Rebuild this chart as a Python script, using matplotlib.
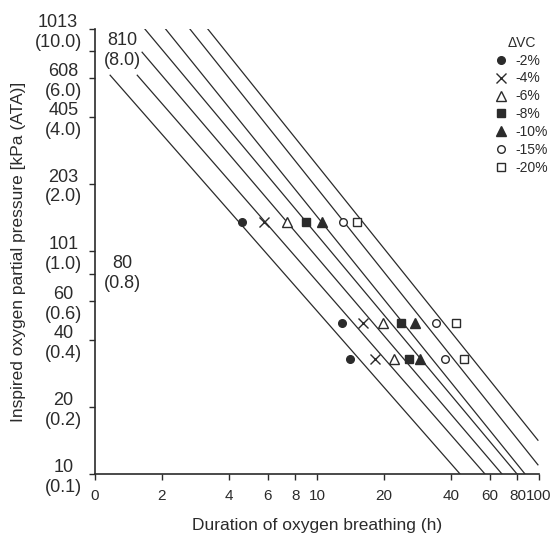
import matplotlib
matplotlib.use("Agg")
import matplotlib.pyplot as plt
from matplotlib.lines import Line2D
from matplotlib.transforms import blended_transform_factory

plt.rcParams["font.family"] = ["Liberation Sans", "DejaVu Sans"]

# axis ticks
x_ticks = [1, 2, 4, 6, 8, 10, 20, 40, 60, 80, 100]
x_tick_labels = ["0", "2", "4", "6", "8", "10", "20", "40", "60", "80", "100"]
y_ticks = [10, 20, 40, 60, 80, 101, 203, 405, 608, 810, 1013]
y_tick_labels = ["10\n(0.1)", "20\n(0.2)", "40\n(0.4)", "60\n(0.6)", "",
                 "101\n(1.0)", "203\n(2.0)", "405\n(4.0)", "608\n(6.0)", "",
                 "1013\n(10.0)"]
inner_labels = {810: "810\n(8.0)", 80: "80\n(0.8)"}

# iso-lines (duration h, pressure kPa)
line_t_start = [1.17, 1.55, 1.63, 1.65, 2.02, 2.60, 3.13]
line_p_start = [627, 627, 796, 1033, 1050, 1050, 1050]
line_t_end = [44.1, 57.1, 68.1, 79.6, 86.5, 98.9, 98.9]
line_p_end = [10, 10, 10, 10, 10, 11.0, 14.2]

# observed points
vc_labels = ["-2%", "-4%", "-6%", "-8%", "-10%", "-15%", "-20%"]
vc_markers = ["o", "x", "^", "s", "^", "o", "s"]
vc_filled = [True, False, False, True, True, False, False]
row_pressure = [136, 48, 33]
row_durations = [
    [4.6, 5.8, 7.3, 8.9, 10.5, 13.1, 15.1],
    [12.9, 16.1, 19.8, 23.9, 27.6, 34.4, 42.3],
    [14.1, 18.2, 22.2, 26.0, 29.1, 37.7, 45.9],
]

ink = "#2b2b2b"
marker_sizes = {"o": 5.5, "x": 6.5, "^": 7.0, "s": 5.5}

fig = plt.figure(figsize=(5.6, 5.4), dpi=100)
ax = fig.add_axes([95 / 560, 66 / 540, 444 / 560, 445 / 540])
ax.set_xscale("log")
ax.set_yscale("log")
ax.set_xlim(1, 100)
ax.set_ylim(10, 1013)

for t0, p0, t1, p1 in zip(line_t_start, line_p_start, line_t_end, line_p_end):
    ax.plot([t0, t1], [p0, p1], color=ink, linewidth=0.9)

handles = []
for i, label in enumerate(vc_labels):
    face = ink if vc_filled[i] else "white"
    size = marker_sizes[vc_markers[i]]
    xs = [row[i] for row in row_durations]
    ax.plot(xs, row_pressure, linestyle="none", marker=vc_markers[i], markersize=size,
            markerfacecolor=face, markeredgecolor=ink, markeredgewidth=1.0, zorder=4)
    handles.append(Line2D([], [], linestyle="none", marker=vc_markers[i], markersize=size,
                          markerfacecolor=face, markeredgecolor=ink, markeredgewidth=1.0,
                          label=label))

ax.set_xticks(x_ticks)
ax.set_xticklabels(x_tick_labels)
ax.set_yticks(y_ticks)
ax.set_yticklabels(y_tick_labels)
ax.minorticks_off()
ax.tick_params(axis="both", direction="out", length=4.5, width=1.0, colors=ink, labelsize=13)
ax.tick_params(axis="x", pad=6, labelsize=11)
ax.tick_params(axis="y", pad=5)
for lbl in ax.get_yticklabels():
    lbl.set_multialignment("center")

trans = blended_transform_factory(ax.transAxes, ax.transData)
for value, text in inner_labels.items():
    ax.text(0.02, value, text, transform=trans, ha="left", va="center",
            fontsize=13, color=ink, multialignment="center")

for side in ["top", "right"]:
    ax.spines[side].set_visible(False)
for side in ["left", "bottom"]:
    ax.spines[side].set_color(ink)
    ax.spines[side].set_linewidth(1.2)

ax.set_xlabel("Duration of oxygen breathing (h)", fontsize=12.5, color=ink)
ax.set_ylabel("Inspired oxygen partial pressure [kPa (ATA)]", fontsize=12.5, color=ink)
ax.xaxis.set_label_coords(0.5, -0.098)
ax.yaxis.set_label_coords(-0.155, 0.5)

legend = ax.legend(handles=handles, title="ΔVC", loc="upper left",
                   bbox_to_anchor=(486 / 560, 1 - 26 / 540), bbox_transform=fig.transFigure,
                   frameon=False, fontsize=10, title_fontsize=10,
                   handlelength=0.8, handletextpad=0.6, labelspacing=0.28, borderpad=0.2)
for text in legend.get_texts():
    text.set_color(ink)
legend.get_title().set_color(ink)

fig.savefig("out.png", dpi=100)
